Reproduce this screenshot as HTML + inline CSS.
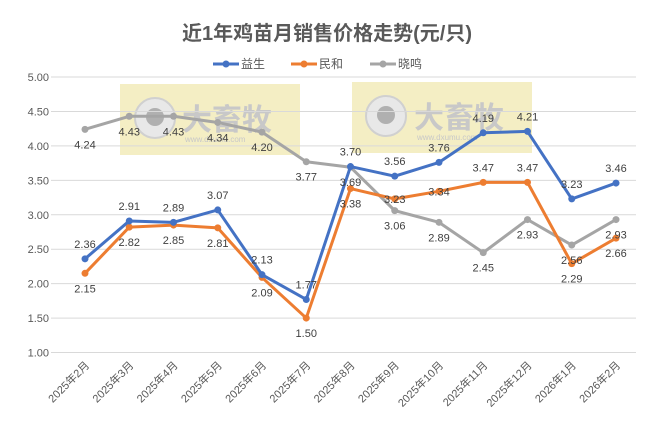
<!DOCTYPE html>
<html><head><meta charset="utf-8">
<style>
html,body{margin:0;padding:0;background:#fff;}
svg{display:block;font-family:"Liberation Sans","Noto Sans CJK SC",sans-serif;}
</style></head>
<body>
<svg id="chart" width="655" height="429" viewBox="0 0 655 429">
  <rect x="0" y="0" width="655" height="429" fill="#fff"/>
  <text x="327" y="40" text-anchor="middle" font-size="20" font-weight="bold" fill="#595959" font-family="'Liberation Sans','Noto Sans CJK SC',sans-serif">近1年鸡苗月销售价格走势(元/只)</text>
  <g>
    <rect x="120" y="84" width="180" height="71" fill="#f1eab5" opacity="0.8"/>
    <circle cx="155" cy="118" r="20" fill="#e8e8e8" stroke="#d0d0d0" stroke-width="2"/>
    <circle cx="155" cy="117" r="9" fill="#b0b0b0"/>
    <text x="182" y="130" font-size="30" font-weight="bold" fill="#c8c8c8">大畜牧</text>
    <text x="185" y="142" font-size="8" fill="#c8c8c8">www.dxumu.com</text>
  </g>
  <g>
    <rect x="352" y="82" width="180" height="71" fill="#f1eab5" opacity="0.8"/>
    <circle cx="386" cy="116" r="20" fill="#e8e8e8" stroke="#d0d0d0" stroke-width="2"/>
    <circle cx="386" cy="115" r="9" fill="#b0b0b0"/>
    <text x="414" y="128" font-size="30" font-weight="bold" fill="#c8c8c8">大畜牧</text>
    <text x="417" y="140" font-size="8" fill="#c8c8c8">www.dxumu.com</text>
  </g>
  <g id="grid"></g>
  <g id="xlabels"></g>
  <g id="series"></g>
  <g id="legend"></g>
</svg>
<script>
const categories = ["2025年2月","2025年3月","2025年4月","2025年5月","2025年6月","2025年7月","2025年8月","2025年9月","2025年10月","2025年11月","2025年12月","2026年1月","2026年2月"];
const yisheng = [2.36,2.91,2.89,3.07,2.13,1.77,3.70,3.56,3.76,4.19,4.21,3.23,3.46];
const minhe = [2.15,2.82,2.85,2.81,2.09,1.50,3.38,3.23,3.34,3.47,3.47,2.29,2.66];
const xiaoming = [4.24,4.43,4.43,4.34,4.20,3.77,3.69,3.06,2.89,2.45,2.93,2.56,2.93];
const yTicks = [1.00,1.50,2.00,2.50,3.00,3.50,4.00,4.50,5.00];
const seriesNames = ["益生","民和","晓鸣"];

const NS="http://www.w3.org/2000/svg";
const X0=85, X1=616, Y0=352.5, Ytop=77, YMIN=1, YMAX=5;
function xs(i){return X0+(X1-X0)*i/(categories.length-1);}
function ys(v){return Y0-(v-YMIN)/(YMAX-YMIN)*(Y0-Ytop);}
function mk(tag,attrs,parent){const e=document.createElementNS(NS,tag);for(const k in attrs)e.setAttribute(k,attrs[k]);parent.appendChild(e);return e;}

const grid=document.getElementById('grid');
yTicks.forEach(t=>{
  const l=mk('line',{x1:51,x2:636,y1:ys(t),y2:ys(t),stroke:'#d9d9d9','stroke-width':1},grid);
  
  
  const tx=mk('text',{x:49,y:ys(t)+4,'text-anchor':'end','font-size':11,fill:'#595959'},grid);
  tx.textContent=t.toFixed(2);
  
  
});
const xl=document.getElementById('xlabels');
categories.forEach((c,i)=>{
  const x=xs(i)+5, y=366;
  const tx=mk('text',{x:x,y:y,'text-anchor':'end','font-size':11,fill:'#595959',transform:`rotate(-45 ${x} ${y})`},xl);
  tx.textContent=c;
  
  
});

const colors=["#4472c4","#ed7d31","#a5a5a5"];
const datas=[yisheng,minhe,xiaoming];
// label placement: 'a' above, 'b' below, 'c' centered near point
const place=[
  "aaaaaaaaaaaaa",
  "bbbbbbbccaabb",
  "bbbbbbbbbbbbb"
];
const sg=document.getElementById('series');
[2,1,0].forEach(s=>{
  const g=mk('g',{},sg);
  
  
  const pts=datas[s].map((v,i)=>xs(i)+','+ys(v)).join(' ');
  const pl=mk('polyline',{points:pts,fill:'none',stroke:colors[s],'stroke-width':3,'stroke-linejoin':'round'},g);
  
  
  datas[s].forEach((v,i)=>{
    const c=mk('circle',{cx:xs(i),cy:ys(v),r:3.5,fill:colors[s]},g);
    
    
  });
});
[0,1,2].forEach(s=>{
  datas[s].forEach((v,i)=>{
    const p=place[s][i];
    const off=p==='a'?-11:(p==='b'?19:4);
    const t=mk('text',{x:xs(i),y:ys(v)+off,'text-anchor':'middle','font-size':11,fill:'#404040'},sg);
    t.textContent=v.toFixed(2);
    
    
  });
});

const lg=document.getElementById('legend');
const lx=[213,291,370];
seriesNames.forEach((n,s)=>{
  const g=mk('g',{},lg);
  
  
  mk('line',{x1:lx[s],x2:lx[s]+26,y1:64,y2:64,stroke:colors[s],'stroke-width':3},g);
  mk('circle',{cx:lx[s]+13,cy:64,r:3.5,fill:colors[s]},g);
  const t=mk('text',{x:lx[s]+28,y:68,'font-size':12,fill:'#595959'},g);
  t.textContent=n;
});
</script>
</body></html>
